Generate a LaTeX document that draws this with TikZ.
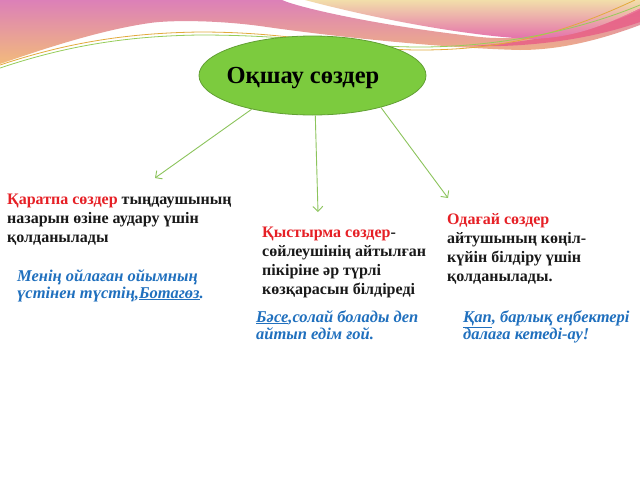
\documentclass[tikz,border=0pt]{standalone}
\usepackage{fontspec}
\setmainfont{Liberation Serif}
\usetikzlibrary{arrows.meta,shapes.geometric}
\definecolor{ered}{RGB}{230,32,38}
\definecolor{eblue}{RGB}{32,112,190}
\definecolor{egreen}{RGB}{124,203,62}
\definecolor{eborder}{RGB}{98,160,52}
\definecolor{arrowgreen}{RGB}{140,196,92}
\definecolor{txt}{RGB}{25,25,25}
\definecolor{pinktop}{RGB}{220,128,184}
\definecolor{orangebot}{RGB}{242,186,124}
\definecolor{creamtop}{RGB}{242,222,170}
\definecolor{magbot}{RGB}{228,112,172}
\definecolor{redband}{RGB}{232,96,134}
\definecolor{goldline}{RGB}{226,170,60}
\definecolor{greenline}{RGB}{150,205,90}
\begin{document}
\begin{tikzpicture}[x=1pt,y=-1pt,
  blacktext/.style={anchor=base west, align=left, inner sep=0pt,
    font=\fontsize{16}{19}\selectfont\bfseries, text=txt},
  bluetext/.style={anchor=base west, align=left, inner sep=0pt,
    font=\fontsize{16.5}{17}\selectfont\bfseries\itshape, text=eblue},
  link/.style={draw=arrowgreen, line width=0.9pt,
    -{Straight Barb[length=5pt,width=10pt]}}]
\useasboundingbox (0,0) rectangle (640,480);
\fill[white] (0,0) rectangle (640,480);
% decorative bands
\shade[top color=pinktop, bottom color=orangebot]
  (0,0) -- (282,0) .. controls (300,8) and (380,26) .. (480,37)
  .. controls (530,42) and (600,30) .. (640,10) -- (640,25)
  .. controls (600,40) and (560,50) .. (520,50)
  .. controls (440,48) and (330,36) .. (267,27)
  .. controls (220,20) and (170,20) .. (150,23)
  .. controls (100,30) and (40,50) .. (0,64) -- cycle;
\fill[redband, opacity=0.85]
  (470,46) .. controls (540,48) and (600,36) .. (640,22) -- (640,8)
  .. controls (600,28) and (540,42) .. (470,46) -- cycle;
\shade[top color=creamtop, bottom color=magbot]
  (305,0) -- (640,0) -- (640,8)
  .. controls (600,28) and (570,38) .. (530,39)
  .. controls (470,36) and (380,20) .. (305,0) -- cycle;
\draw[goldline, line width=0.8pt]
  (0,65) .. controls (60,45) and (120,33) .. (200,32)
  .. controls (300,32) and (350,50) .. (420,50)
  .. controls (500,50) and (560,35) .. (635,0);
\draw[greenline, line width=0.8pt]
  (0,68) .. controls (60,48) and (120,36) .. (200,35)
  .. controls (300,35) and (350,47) .. (420,47)
  .. controls (500,47) and (580,30) .. (640,5);
% central ellipse
\node[ellipse, draw=eborder, line width=0.8pt, fill=egreen,
  minimum width=227pt, minimum height=79pt, inner sep=0pt] (E) at (312.5,75.5) {};
\node[anchor=base, inner sep=0pt, font=\fontsize{24.5}{28}\selectfont\bfseries, text=black]
  (T) at (303,83) {Оқшау сөздер};
% text blocks (anchored at the baseline of the last line)
\node[blacktext] (L) at (7,242)
  {\textcolor{ered}{Қаратпа сөздер} тыңдаушының\\назарын өзіне аудару үшін\\қолданылады};
\node[bluetext] (LB) at (17,298)
  {Менің ойлаған ойымның\\үстінен түстің,\underline{Ботагөз}.};
\node[blacktext] (M) at (262,294)
  {\textcolor{ered}{Қыстырма сөздер}-\\сөйлеушінің айтылған\\пікіріне әр түрлі\\көзқарасын білдіреді};
\node[bluetext] (MB) at (256,339)
  {\underline{Бәсе},солай болады деп\\айтып едім ғой.};
\node[blacktext] (R) at (447,281)
  {\textcolor{ered}{Одағай сөздер}\\айтушының көңіл-\\күйін білдіру үшін\\қолданылады.};
\node[bluetext] (RB) at (463,339)
  {\underline{Қап}, барлық еңбектері\\далаға кетеді-ау!};
% connectors
\coordinate (a1) at (155,178);
\coordinate (a2) at (318,212);
\coordinate (a3) at (448,198);
\draw[link] (E.209) -- (a1);
\draw[link] (E.274) -- (a2);
\draw[link] (E.335.6) -- (a3);
\end{tikzpicture}
\end{document}
